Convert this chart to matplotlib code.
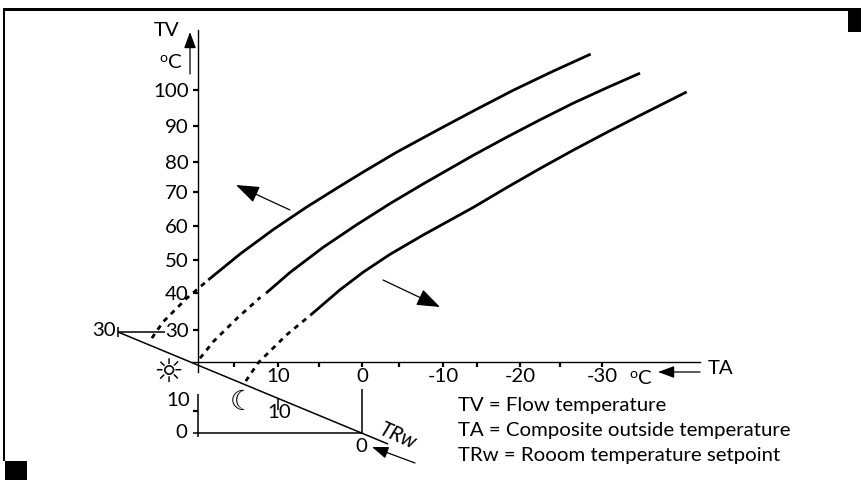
import matplotlib
matplotlib.use("Agg")
import matplotlib.pyplot as plt
from matplotlib.patches import Rectangle

plt.rcParams['font.family'] = ['Lato', 'DejaVu Sans']

# curves, TA (outside temp) against TV (flow temp)
ta_high = [18.73, 14.81, 10.7, 6.58, 2.88, -0.41, -4.53, -9.88, -13.99, -18.93, -23.86, -28.48]
tv_high = [44.1, 51.7, 58.9, 65.5, 71.0, 75.8, 81.6, 88.5, 93.7, 99.8, 105.4, 110.4]
ta_high_dot = [25.7, 24.3, 21.4, 20.4, 18.73]
tv_high_dot = [27.0, 31.8, 38.7, 40.7, 44.1]

ta_mid = [11.6, 8.64, 4.53, 0.41, -3.7, -7.81, -13.99, -18.11, -22.22, -26.33, -30.46, -34.57]
tv_mid = [40.2, 46.3, 53.7, 60.3, 66.5, 72.3, 80.7, 86.0, 91.1, 96.0, 100.5, 104.8]
ta_mid_dot = [19.75, 18.1, 15.2, 12.3]
tv_mid_dot = [21.1, 26.0, 32.8, 39.0]

ta_low = [6.09, 2.47, -0.41, -3.7, -7.81, -13.99, -18.11, -22.22, -26.33, -30.46, -34.57, -40.33]
tv_low = [33.8, 41.2, 46.4, 51.6, 57.3, 65.4, 71.2, 76.8, 82.2, 87.4, 92.4, 99.3]
ta_low_dot = [14.1, 12.56, 9.05, 6.09]
tv_low_dot = [14.4, 19.8, 28.0, 33.8]

# ticks are not evenly printed in the original
y_tick_pos = [100, 89.4, 78.7, 69.8, 59.9, 49.9, 40.3, 29.5]
y_tick_labels = ['100', '90', '80', '70', '60', '50', '40', '30']
x_tick_pos = [10.1, -0.25, -10.25, -19.75, -29.9]
x_tick_labels = ['10', '0', '-10', '-20', '-30']
x_minor_pos = [15.6, 5.1, -4.8, -14.5, -24.7]

legend_lines = ['TV = Flow temperature',
                'TA = Composite outside temperature',
                'TRw = Rooom temperature setpoint']

W, H = 862, 480
FS = 14.7
fig = plt.figure(figsize=(W / 100, H / 100), dpi=100)
ax = fig.add_axes([0, 0, 1, 1])
ax.set_xlim(20 + 198 / 8.1, 20 - 664 / 8.1)
ax.set_ylim(20 - 118 / 3.406, 20 + 362 / 3.406)
ax.patch.set_alpha(0)

for s in ['top', 'right']:
    ax.spines[s].set_visible(False)
ax.spines['left'].set_position(('data', 20))
ax.spines['bottom'].set_position(('data', 20))
ax.spines['left'].set_bounds(17, 117.5)
ax.spines['bottom'].set_bounds(20.7, -42)
ax.spines['left'].set_linewidth(1.0)
ax.spines['bottom'].set_linewidth(1.0)

ax.set_yticks(y_tick_pos)
ax.set_yticklabels(y_tick_labels)
ax.set_xticks(x_tick_pos)
ax.set_xticklabels(x_tick_labels)
ax.set_xticks(x_minor_pos, minor=True)
ax.tick_params(axis='y', length=3.6, width=1.6, pad=3, labelsize=FS)
ax.tick_params(axis='x', length=3.6, width=1.6, pad=1, labelsize=FS)
ax.tick_params(axis='x', which='minor', length=3.6, width=1.6)

for x, y in [(ta_high, tv_high), (ta_mid, tv_mid), (ta_low, tv_low)]:
    ax.plot(x, y, color='black', lw=2.0, solid_capstyle='butt')
for x, y in [(ta_high_dot, tv_high_dot), (ta_mid_dot, tv_mid_dot), (ta_low_dot, tv_low_dot)]:
    ax.plot(x, y, color='black', lw=2.0, ls=(0, (1.8, 1.9)))

# everything else is the printed drawing, placed in pixels
deco = fig.add_axes([0, 0, 1, 1])
deco.set_xlim(0, W)
deco.set_ylim(H, 0)
deco.axis('off')
deco.patch.set_alpha(0)


def line(x, y, lw=1.1):
    deco.plot(x, y, color='black', lw=lw, solid_capstyle='butt')


def arrow(tail, tip, size=10):
    deco.annotate('', xy=tip, xytext=tail,
                  arrowprops=dict(arrowstyle='-|>,head_length=0.9,head_width=0.33',
                                  color='black', lw=0.9, shrinkA=0, shrinkB=0,
                                  mutation_scale=size))


def label(x, y, s, size=FS, ha='center', **kw):
    deco.text(x, y, s, fontsize=size, ha=ha, va='center', color='black', **kw)


# frame and corner blocks
deco.add_patch(Rectangle((3, 8), 845, 2.5, color='black', lw=0))
deco.add_patch(Rectangle((3, 8), 2.5, 453, color='black', lw=0))
deco.add_patch(Rectangle((848, 8), 14, 24, color='black', lw=0))
deco.add_patch(Rectangle((5, 461), 22, 19, color='black', lw=0))

# TRw scale
line([118, 388], [332, 444])
line([118, 165], [332, 332])
line([118, 118], [327, 337])
line([193, 362], [433, 433])
line([198, 198], [394, 437])
line([193, 198], [410.7, 410.7], lw=1.6)
line([362, 362], [389, 433])
line([278, 278], [398, 410])
arrow((415, 463), (372, 447), size=11)

# axis arrows
arrow((190, 74), (190, 32), size=11)
arrow((700, 372), (658, 372), size=11)

# direction arrows
arrow((290, 210), (236, 185), size=16)
arrow((383, 280), (440, 307), size=16)

label(167, 31, 'TV')
label(163, 58, 'o', size=10)
label(175, 62, 'C')
label(104, 331, '30')
label(178, 400, '10')
label(181, 432, '0')
label(279, 413, '10')
label(361, 446, '0')
label(398, 436, 'TRw', size=15, style='italic', rotation=-24)
label(633, 374, 'o', size=10)
label(645, 378, 'C')
label(721, 369, 'TA')
label(168, 372, '\u263c', size=24, family='DejaVu Sans')
label(242, 402, '\u263e', size=20, family='DejaVu Sans')

for i, s in enumerate(legend_lines):
    label(458, 405 + 25.5 * i, s, ha='left')

fig.savefig('out.png', dpi=100)
